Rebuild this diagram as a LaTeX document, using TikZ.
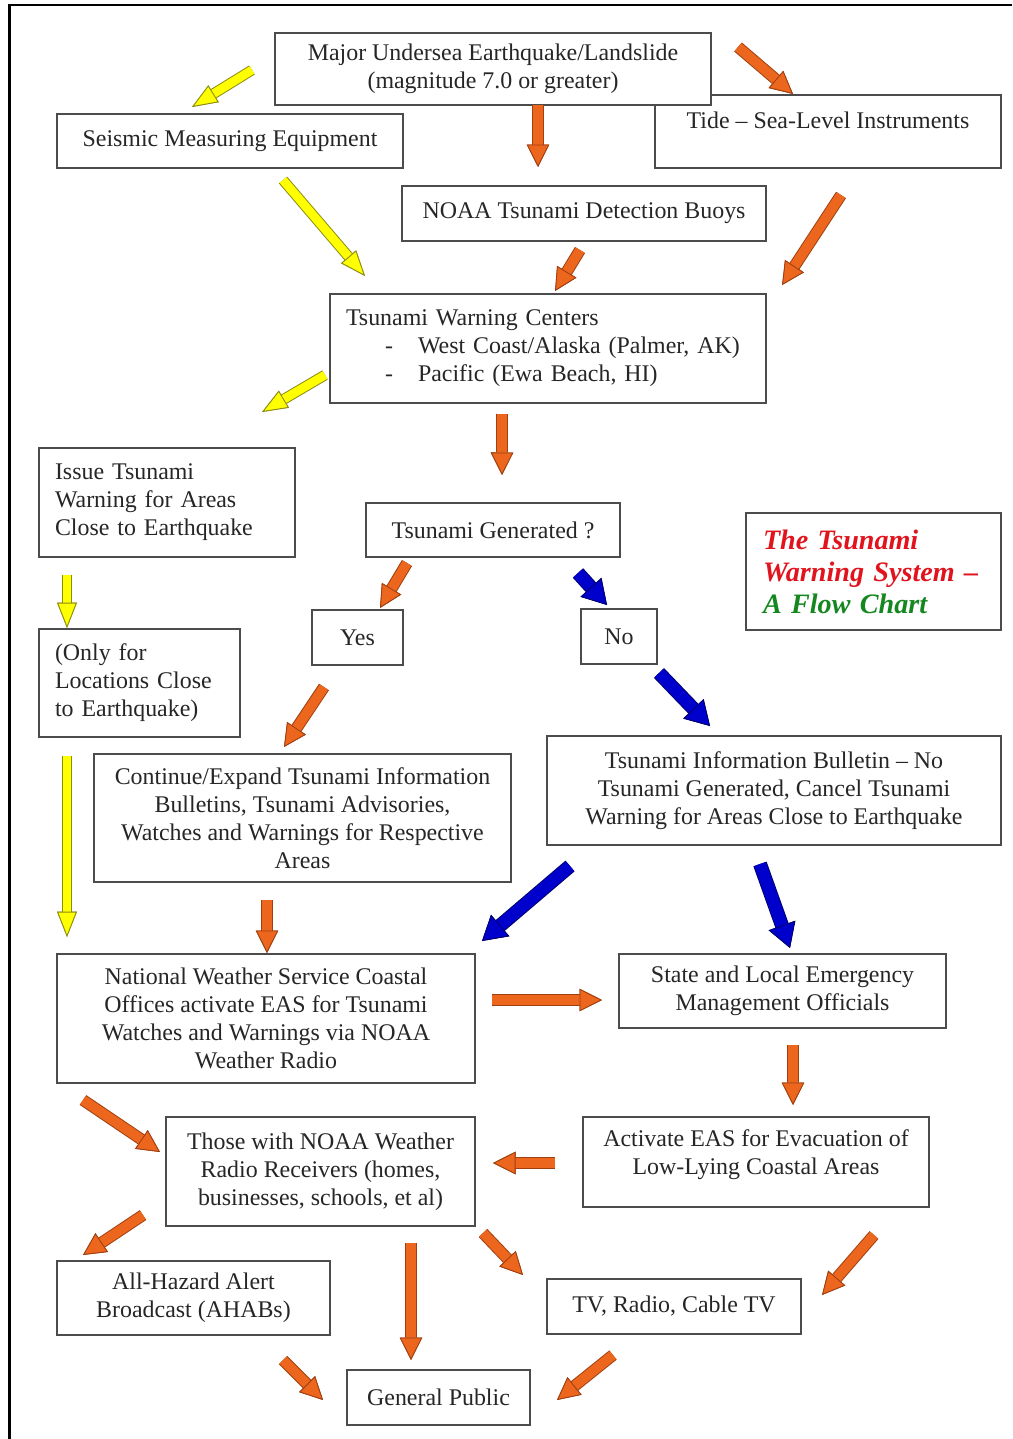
\documentclass[tikz,border=0pt]{standalone}
\usepackage{fontspec}
\setmainfont{Liberation Serif}
\usepackage{tikz}
\usetikzlibrary{arrows.meta,shadows}

\definecolor{ylwfill}{RGB}{255,255,0}
\definecolor{ylwline}{RGB}{140,140,20}
\definecolor{orgfill}{RGB}{236,102,30}
\definecolor{orgline}{RGB}{160,64,16}
\definecolor{blufill}{RGB}{0,0,205}
\definecolor{bluline}{RGB}{0,0,110}
\definecolor{ttlred}{RGB}{225,20,30}
\definecolor{ttlgreen}{RGB}{20,135,30}

\begin{document}
\begin{tikzpicture}[x=0.025cm,y=-0.025cm,inner sep=0pt,outer sep=0pt,
    every node/.style={font=\fontsize{17}{19.9}\selectfont, text=black!85},
    box/.style={draw=black!70, line width=1.1pt, fill=white, anchor=north west, align=center,
        drop shadow={shadow xshift=0.8pt,shadow yshift=-0.9pt,fill=black!40,opacity=0.6}},
    boxsize/.style 2 args={minimum width=#1*0.025cm, minimum height=#2*0.025cm},
    flow/.style n args={6}{line width=#3, draw=#1,
        -{Triangle[width=#5,length=#6,color=#2,fill=#1,line width=0.6pt]},
        preaction={draw=#2, line width=#4,
        -{Triangle[width=#5,length=#6,color=#2,fill=#1,line width=0.6pt]}}},
    yflow/.style={flow={ylwfill}{ylwline}{6.2pt}{7.6pt}{14pt}{18pt}},
    oflow/.style={flow={orgfill}{orgline}{7pt}{8.4pt}{16pt}{16pt}},
    bflow/.style={flow={blufill}{bluline}{8.6pt}{10pt}{20pt}{17pt}}]
    \useasboundingbox (0,0) rectangle (1012,1439);
    \draw[line width=1.5pt] (9.5,1439) -- (9.5,5) -- (1012,5);
    %
    \node[box, boxsize={346}{73}, text depth=16.5pt] (tide) at (655,95) {Tide – Sea-Level Instruments};
    \node[box, boxsize={436}{72}] (quake) at (275,33) {Major Undersea Earthquake/Landslide\\(magnitude 7.0 or greater)};
    \node[box, boxsize={346}{54}] (seismic) at (57,114) {Seismic Measuring Equipment};
    \node[box, boxsize={364}{55}] (buoys) at (402,186) {NOAA Tsunami Detection Buoys};
    \node[box, boxsize={436}{109}, align=left, inner xsep=0.4cm, text width=10.1cm] (centers) at (330,294)
    {Tsunami Warning Centers\\
    \makebox[1.8cm][l]{\hspace{0.975cm}-}West Coast/Alaska (Palmer, AK)\\
    \makebox[1.8cm][l]{\hspace{0.975cm}-}Pacific (Ewa Beach, HI)};
    \node[box, boxsize={256}{109}, align=left, inner xsep=0.4cm, text width=5.6cm] (issue) at (39,448)
    {Issue Tsunami\\Warning for Areas\\Close to Earthquake};
    \node[box, boxsize={254}{54}] (generated) at (366,503) {Tsunami Generated ?};
    \node[box, boxsize={255}{117}, align=left, inner xsep=0.425cm, text width=5.525cm,
        font=\fontsize{20}{22.8}\selectfont\bfseries\itshape] (title) at (746,513)
    {\textcolor{ttlred}{The Tsunami}\\\textcolor{ttlred}{Warning System –}\\\textcolor{ttlgreen}{A Flow Chart}};
    \node[box, boxsize={201}{108}, align=left, inner xsep=0.4cm, text width=4.225cm] (only) at (39,629)
    {(Only for\\Locations Close\\to Earthquake)};
    \node[box, boxsize={91}{55}] (yes) at (312,610) {Yes};
    \node[box, boxsize={76}{55}] (no) at (581,609) {No};
    \node[box, boxsize={417}{128}] (continue) at (94,754)
    {Continue/Expand Tsunami Information\\Bulletins, Tsunami Advisories,\\Watches and Warnings for Respective\\Areas};
    \node[box, boxsize={454}{109}] (bulletin) at (547,736)
    {Tsunami Information Bulletin – No\\Tsunami Generated, Cancel Tsunami\\Warning for Areas Close to Earthquake};
    \node[box, boxsize={418}{129}] (nws) at (57,954)
    {National Weather Service Coastal\\Offices activate EAS for Tsunami\\Watches and Warnings via NOAA\\Weather Radio};
    \node[box, boxsize={327}{74}] (state) at (619,954) {State and Local Emergency\\Management Officials};
    \node[box, boxsize={309}{109}] (those) at (166,1117)
    {Those with NOAA Weather\\Radio Receivers (homes,\\businesses, schools, et al)};
    \node[box, boxsize={346}{90}, text depth=14pt] (activate) at (583,1117)
    {Activate EAS for Evacuation of\\Low-Lying Coastal Areas};
    \node[box, boxsize={273}{74}] (ahab) at (57,1261) {All-Hazard Alert\\Broadcast (AHABs)};
    \node[box, boxsize={254}{55}] (tv) at (547,1279) {TV, Radio, Cable TV};
    \node[box, boxsize={183}{55}] (public) at (347,1370) {General Public};
    %
    % yellow: warnings close to the quake
    \draw[yflow] ([shift={(-23,1)}]quake.west) -- ([shift={(-38,-7)}]seismic.north);
    \draw[yflow] ([shift={(53,12)}]seismic.south) -- ([shift={(35,-18)}]centers.north west);
    \draw[yflow] ([shift={(-5,26.5)}]centers.west) -- ([shift={(-33,-36)}]issue.north east);
    \draw[yflow] ([shift={(28,18)}]issue.south west) -- ([shift={(28,-1)}]only.north west);
    \draw[yflow] ([shift={(28,19)}]only.south west) -- ([shift={(10,-17)}]nws.north west);
    % orange
    \draw[oflow] ([shift={(45,0)}]quake.south) -- ([shift={(-46,-19)}]buoys.north);
    \draw[oflow] ([shift={(27,14)}]quake.north east) -- ([shift={(-35,-1)}]tide.north);
    \draw[oflow] ([shift={(-4,9)}]buoys.south) -- ([shift={(7,-3)}]centers.north);
    \draw[oflow] ([shift={(13,27)}]tide.south) -- ([shift={(16,-9)}]centers.north east);
    \draw[oflow] ([shift={(-46,11)}]centers.south) -- ([shift={(9,-28)}]generated.north);
    \draw[oflow] ([shift={(-86,6)}]generated.south) -- ([shift={(22.5,-2)}]yes.north);
    \draw[oflow] ([shift={(-33.5,22)}]yes.south) -- ([shift={(-18.5,-7)}]continue.north);
    \draw[oflow] ([shift={(-35.5,18)}]continue.south) -- ([shift={(1,-1)}]nws.north);
    \draw[oflow] ([shift={(17,-18.5)}]nws.east) -- ([shift={(-17,9)}]state.west);
    \draw[oflow] ([shift={(10.5,17)}]state.south) -- ([shift={(37,-12)}]activate.north);
    \draw[oflow] ([shift={(-28,1)}]activate.west) -- ([shift={(18,-8.5)}]those.east);
    \draw[oflow] ([shift={(26,17)}]nws.south west) -- ([shift={(-6,-19.5)}]those.west);
    \draw[oflow] ([shift={(-23,-11)}]those.south west) -- ([shift={(26,-6)}]ahab.north west);
    \draw[oflow] ([shift={(90.5,17)}]those.south) -- ([shift={(-27.5,-10)}]public.north);
    \draw[oflow] ([shift={(8,7)}]those.south east) -- ([shift={(-24,-4)}]tv.north west);
    \draw[oflow] ([shift={(118,28)}]activate.south) -- ([shift={(21,-11.5)}]tv.east);
    \draw[oflow] ([shift={(89.5,25)}]ahab.south) -- ([shift={(-24,2.5)}]public.west);
    \draw[oflow] ([shift={(-61,21)}]tv.south) -- ([shift={(27,2.5)}]public.east);
    % blue: no tsunami
    \draw[bflow] ([shift={(85,16)}]generated.south) -- ([shift={(-12,-4)}]no.north);
    \draw[bflow] ([shift={(2,9)}]no.south east) -- ([shift={(-64,-10)}]bulletin.north);
    \draw[bflow] ([shift={(23,21)}]bulletin.south west) -- ([shift={(7,-13)}]nws.north east);
    \draw[bflow] ([shift={(-14,19)}]bulletin.south) -- ([shift={(7.5,-6)}]state.north);
\end{tikzpicture}
\end{document}
